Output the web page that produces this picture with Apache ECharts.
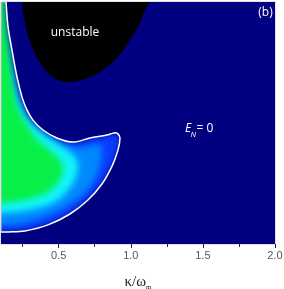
<!DOCTYPE html>
<html><head><meta charset="utf-8">
<script src="https://cdn.jsdelivr.net/npm/echarts@6/dist/echarts.min.js"></script>
<style>
html,body{margin:0;padding:0;background:#fff}
#wrap{position:relative;width:284px;height:289px;overflow:hidden}
#clipbox{position:absolute;left:1px;top:2px;width:274px;height:242px;overflow:hidden}
#under{position:absolute;left:-21px;top:-22px;width:324px;height:329px;filter:blur(3px)}
#c{position:absolute;left:0;top:0;width:284px;height:289px}
</style>
</head><body><div id="wrap"><div id="clipbox"><div id="under"></div></div><div id="c"></div></div>
<script>
// ---- tick values ----
const xTickLabels = [0.5, 1.0, 1.5, 2.0];
const xMinorTicks = [0.25, 0.75, 1.25, 1.75];

// ---- unstable region boundary (kappa/omega_m, normalized y) ----
const unstableBoundary = [[0.246,1.03],[0.246,1.0],[0.26,0.934],[0.287,0.864],[0.329,0.793],[0.384,0.736],[0.44,0.698],[0.495,0.678],[0.565,0.669],[0.662,0.678],[0.786,0.711],[0.911,0.773],[0.994,0.843],[1.057,0.905],[1.098,0.967],[1.133,1.0],[1.14,1.03]];

// ---- E_N = 0 contour ----
const contourEN0 = [[0.133,1.03],[0.135,1.0],[0.149,0.897],[0.176,0.802],[0.211,0.690],[0.246,0.607],[0.280,0.554],[0.322,0.512],[0.391,0.471],[0.488,0.438],[0.599,0.421],[0.717,0.438],[0.835,0.450],[0.884,0.459],[0.911,0.455],[0.925,0.438],[0.911,0.388],[0.870,0.322],[0.800,0.248],[0.703,0.182],[0.578,0.124],[0.426,0.079],[0.266,0.054],[0.149,0.050],[0.1,0.050],[0.07,0.05]];

// ---- inner level sets of E_N ----
const levelLow = [[0.135,1.1],[0.135,1.0],[0.142,0.897],[0.169,0.802],[0.197,0.690],[0.232,0.607],[0.273,0.545],[0.343,0.492],[0.474,0.438],[0.613,0.401],[0.717,0.405],[0.786,0.413],[0.800,0.380],[0.780,0.306],[0.703,0.223],[0.565,0.157],[0.405,0.112],[0.232,0.083],[0.1,0.079],[-0.1,0.079],[-0.1,1.1]];
const levelMid = [[0.132,1.1],[0.133,1.0],[0.142,0.897],[0.162,0.802],[0.190,0.690],[0.218,0.607],[0.253,0.554],[0.308,0.504],[0.398,0.455],[0.509,0.409],[0.613,0.360],[0.634,0.306],[0.578,0.231],[0.474,0.174],[0.301,0.141],[0.1,0.128],[-0.1,0.128],[-0.1,1.1]];
const levelHigh = [[0.128,1.1],[0.128,1.0],[0.135,0.897],[0.155,0.802],[0.176,0.690],[0.197,0.607],[0.225,0.554],[0.280,0.492],[0.357,0.430],[0.454,0.380],[0.516,0.339],[0.530,0.298],[0.481,0.244],[0.391,0.203],[0.266,0.182],[0.1,0.169],[-0.1,0.169],[-0.1,1.1]];

const outerFill = contourEN0.concat([[-0.1,0.05],[-0.1,1.1],[0.133,1.1]]);
const outside = [[0.05,0.05],[0.05,-0.3],[2.3,-0.3],[2.3,1.3],[0.133,1.3]];

const SM = 0.35;
function polySeries(pts, fill, clip) {
  return {
    type: 'custom', coordinateSystem: 'cartesian2d', clip: clip, silent: true,
    data: [[1, 0.5]],
    renderItem: (params, api) => ({
      type: 'polygon',
      shape: { points: pts.map(p => api.coord(p)), smooth: SM },
      style: { fill: fill }
    })
  };
}
function lineSeries(pts, color, w) {
  return {
    type: 'custom', coordinateSystem: 'cartesian2d', clip: true, silent: true,
    data: [[1, 0.5]],
    renderItem: (params, api) => ({
      type: 'polyline',
      shape: { points: pts.map(p => api.coord(p)), smooth: SM },
      style: { stroke: color, lineWidth: w, fill: null }
    })
  };
}
const navy = '#000080';

// underlying colour field (blurred)
const under = echarts.init(document.getElementById('under'), null, { renderer: 'canvas' });
under.setOption({
  animation: false,
  backgroundColor: navy,
  grid: { left: 21, right: 29, top: 22, bottom: 65, show: false, outerBoundsMode: 'none' },
  xAxis: { type: 'value', min: 0.1, max: 2.0, show: false },
  yAxis: { type: 'value', min: 0, max: 1, show: false },
  series: [
    polySeries(outerFill, '#0a3cff', false),
    polySeries(levelLow, '#0088ff', false),
    polySeries(levelMid, '#10f4f8', false),
    polySeries(levelHigh, '#08f048', false)
  ]
});

const chart = echarts.init(document.getElementById('c'), null, { renderer: 'canvas' });
chart.setOption({
  animation: false,
  backgroundColor: 'transparent',
  grid: { left: 1, right: 9, top: 2, bottom: 45, show: true, backgroundColor: 'transparent', borderColor: '#c4c4cc', borderWidth: 1, outerBoundsMode: 'none' },
  xAxis: [{
    type: 'value', min: 0.1, max: 2.0, position: 'bottom',
    axisLine: { show: false },
    axisTick: { show: true, length: 4, customValues: xTickLabels, lineStyle: { color: '#222', width: 1 } },
    axisLabel: { customValues: xTickLabels, formatter: v => v.toFixed(1), color: '#555', fontSize: 11, margin: 6, fontFamily: 'Liberation Sans' },
    splitLine: { show: false },
    name: '{a|κ/ω}{b|m}', nameLocation: 'middle', nameGap: 30,
    nameTextStyle: { rich: {
      a: { fontFamily: 'Liberation Serif', fontSize: 15, color: '#222' },
      b: { fontFamily: 'Liberation Serif', fontSize: 7, color: '#222', padding: [10, 0, 0, 0] }
    } }
  }, {
    type: 'value', min: 0.1, max: 2.0, position: 'bottom',
    axisLine: { show: false },
    axisTick: { show: true, length: 3, customValues: xMinorTicks, lineStyle: { color: '#222', width: 1 } },
    axisLabel: { show: false }, splitLine: { show: false }
  }],
  yAxis: { type: 'value', min: 0, max: 1, show: false },
  series: [
    polySeries(contourEN0.concat(outside), navy, true),
    polySeries(unstableBoundary, '#000000', true),
    lineSeries(contourEN0, '#ffffff', 1.5)
  ],
  graphic: [
    { type: 'text', z: 100, x: 75, y: 33, silent: true, style: { text: 'unstable', fill: '#fff', font: '12px "Open Sans"', align: 'center', verticalAlign: 'middle' } },
    { type: 'text', z: 100, x: 265.5, y: 13, silent: true, style: { text: '(b)', fill: '#fff', font: '12px "Open Sans"', align: 'center', verticalAlign: 'middle' } },
    { type: 'text', z: 100, x: 185, y: 129, silent: true, style: { text: 'E', fill: '#fff', font: 'italic 12px "Open Sans"', align: 'left', verticalAlign: 'middle' } },
    { type: 'text', z: 100, x: 190.5, y: 135, silent: true, style: { text: 'N', fill: '#fff', font: 'italic 8px "Open Sans"', align: 'left', verticalAlign: 'middle' } },
    { type: 'text', z: 100, x: 196.5, y: 129, silent: true, style: { text: '=', fill: '#fff', font: '12px "Open Sans"', align: 'left', verticalAlign: 'middle' } },
    { type: 'text', z: 100, x: 206.5, y: 129, silent: true, style: { text: '0', fill: '#fff', font: '12px "Open Sans"', align: 'left', verticalAlign: 'middle' } }
  ]
});
</script>
</body></html>
